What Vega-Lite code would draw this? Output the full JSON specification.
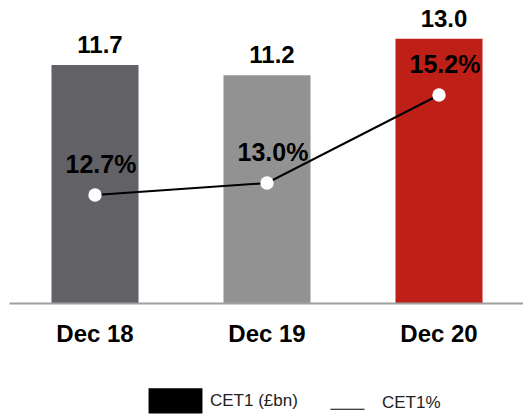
{
  "$schema": "https://vega.github.io/schema/vega-lite/v6.json",
  "width": 516,
  "height": 303,
  "autosize": "none",
  "padding": {"left": 9, "top": 0, "right": 0, "bottom": 111},
  "background": "white",
  "config": {"view": {"stroke": null}, "font": "Liberation Sans"},
  "datasets": {
    "main": [
      {"period": "Dec 18", "cet1": 11.7, "ratio": 12.7, "ratioLabel": "12.7%"},
      {"period": "Dec 19", "cet1": 11.2, "ratio": 13.0, "ratioLabel": "13.0%"},
      {"period": "Dec 20", "cet1": 13.0, "ratio": 15.2, "ratioLabel": "15.2%"}
    ],
    "legend": [
      {"series": "CET1 (£bn)"},
      {"series": "CET1%"}
    ]
  },
  "layer": [
    {
      "data": {"name": "main"},
      "encoding": {
        "x": {
          "field": "period",
          "type": "nominal",
          "sort": null,
          "scale": {"paddingInner": 0.494, "paddingOuter": 0.247},
          "axis": {
            "title": null,
            "labelAngle": 0,
            "labelFontSize": 24,
            "labelFontWeight": "bold",
            "labelColor": "black",
            "labelFont": "Liberation Sans",
            "ticks": false,
            "tickSize": 0,
            "labelPadding": 38,
            "labelBaseline": "alphabetic",
            "domainColor": "#a0a0a0",
            "domainWidth": 2,
            "grid": false,
            "zindex": 1
          }
        },
        "y": {"field": "cet1", "type": "quantitative", "scale": {"domain": [0, 14.9]}, "axis": null}
      },
      "layer": [
        {
          "mark": {"type": "bar"},
          "encoding": {
            "color": {
              "field": "period",
              "type": "nominal",
              "scale": {"domain": ["Dec 18", "Dec 19", "Dec 20"], "range": ["#616166", "#929292", "#BE2017"]},
              "legend": null
            }
          }
        },
        {
          "mark": {"type": "text", "baseline": "alphabetic", "dy": -12, "dx": 5, "fontSize": 24, "fontWeight": "bold", "color": "black"},
          "encoding": {"text": {"field": "cet1", "type": "quantitative", "format": ".1f"}}
        }
      ]
    },
    {
      "data": {"name": "main"},
      "encoding": {
        "x": {"field": "period", "type": "nominal", "sort": null},
        "y": {"field": "ratio", "type": "quantitative", "scale": {"domain": [10, 17.575]}, "axis": null}
      },
      "layer": [
        {"mark": {"type": "line", "color": "black", "strokeWidth": 2}},
        {"mark": {"type": "point", "filled": true, "color": "white", "opacity": 1, "size": 180}},
        {
          "mark": {"type": "text", "baseline": "alphabetic", "dy": -22, "dx": 6, "fontSize": 25, "fontWeight": "bold", "color": "black"},
          "encoding": {"text": {"field": "ratioLabel", "type": "nominal"}}
        }
      ]
    },
    {
      "data": {"name": "legend"},
      "mark": {"type": "point", "filled": true, "opacity": 0, "color": "black"},
      "encoding": {
        "shape": {
          "field": "series",
          "type": "nominal",
          "scale": {"domain": ["CET1 (£bn)", "CET1%"], "range": ["M-0.98,-0.46H0.98V0.46H-0.98Z", "M-0.62,0.2H0.62V0.24H-0.62Z"]},
          "legend": {
            "title": null,
            "orient": "none",
            "legendX": 139,
            "legendY": 373,
            "direction": "horizontal",
            "padding": 0,
            "symbolSize": 3025,
            "labelOffset": 7,
            "columnPadding": 22,
            "labelFontSize": 17,
            "labelFont": "Liberation Sans",
            "labelColor": "#222222",
            "symbolOpacity": 1,
            "symbolFillColor": "black",
            "symbolStrokeWidth": 0,
            "encode": {
              "symbols": {
                "enter": {
                  "fill": {"value": "black"},
                  "opacity": {"value": 1}
                }
              }
            }
          }
        }
      }
    }
  ],
  "resolve": {"scale": {"y": "independent"}}
}
